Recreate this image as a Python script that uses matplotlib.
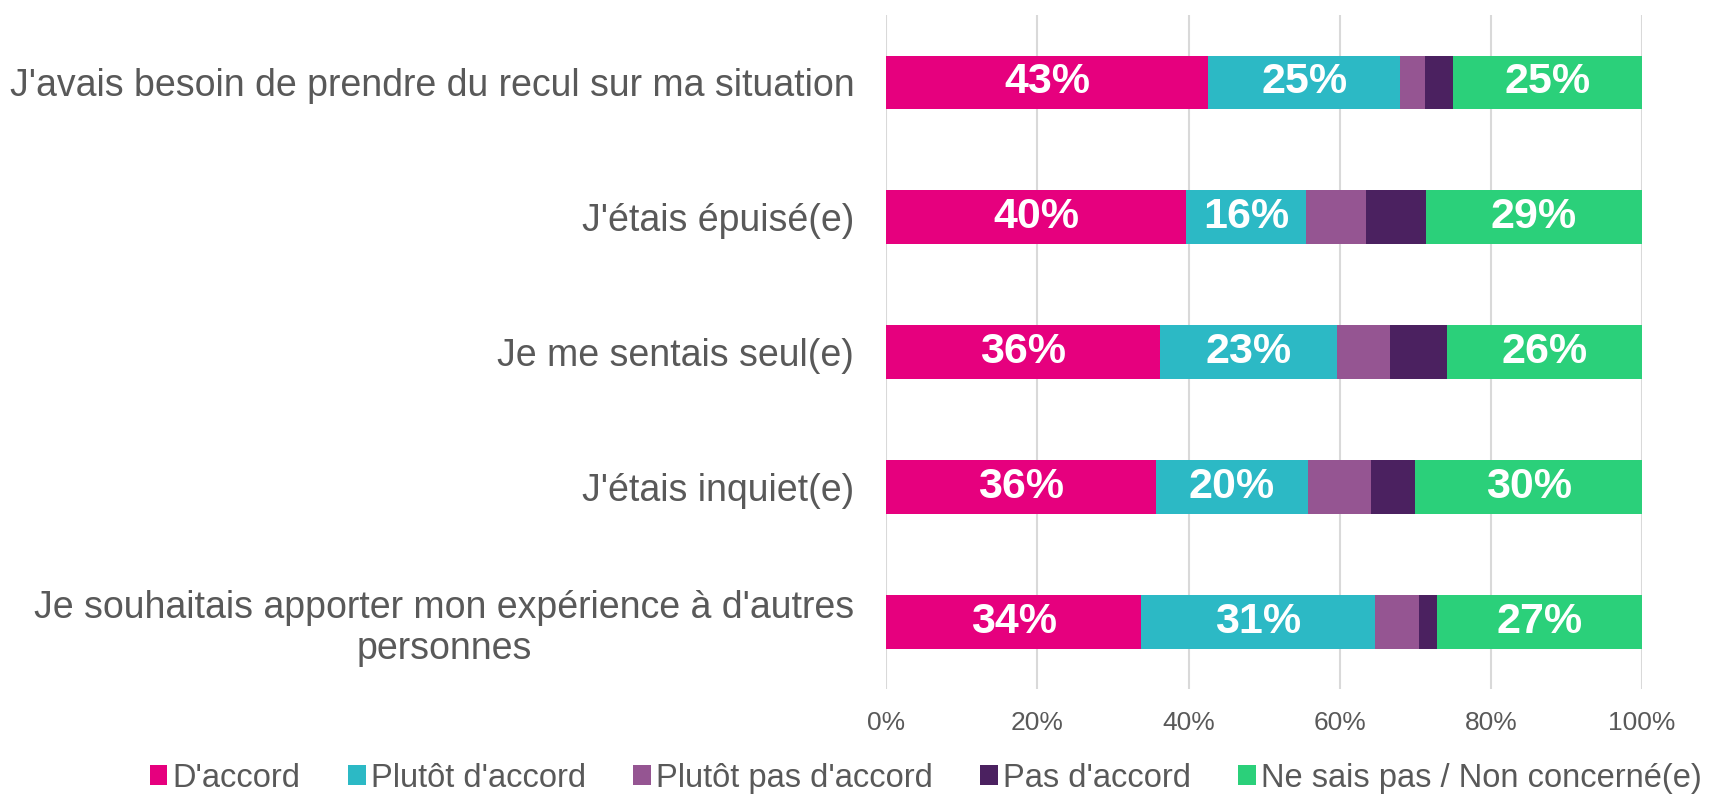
import numpy as np
import matplotlib.pyplot as plt

plt.rcParams['font.family'] = ['Liberation Sans', 'DejaVu Sans']

# Categories (top to bottom)
categories = [
    "J'avais besoin de prendre du recul sur ma situation",
    "J'étais épuisé(e)",
    "Je me sentais seul(e)",
    "J'étais inquiet(e)",
    "Je souhaitais apporter mon expérience à d'autres\npersonnes",
]
series_names = ["D'accord", "Plutôt d'accord", "Plutôt pas d'accord",
                "Pas d'accord", "Ne sais pas / Non concerné(e)"]

# Shares in %
d_accord = [42.6, 39.7, 36.2, 35.7, 33.7]
plutot_d_accord = [25.4, 15.8, 23.4, 20.1, 31.0]
plutot_pas = [3.3, 8.0, 7.1, 8.4, 5.8]
pas_d_accord = [3.7, 7.9, 7.5, 5.8, 2.4]
ne_sais_pas = [25.0, 28.6, 25.8, 30.0, 27.1]

colors = ["#E6007E", "#2CB9C5", "#955592", "#4B2160", "#2BD07A"]
show_label = [True, True, False, False, True]
gray = "#595959"

series = [d_accord, plutot_d_accord, plutot_pas, pas_d_accord, ne_sais_pas]

fig = plt.figure(figsize=(17.11, 7.95), dpi=100)
ax = fig.add_axes([0.518, 0.1333, 0.4417, 0.8477])

y = np.arange(len(categories))
left = np.zeros(len(categories))
for name, vals, col, lab in zip(series_names, series, colors, show_label):
    vals = np.array(vals)
    bars = ax.barh(y, vals, left=left, height=0.4, color=col, label=name,
                   zorder=3)
    if lab:
        ax.bar_label(bars, labels=[f"{v:.0f}%" for v in vals],
                     label_type='center', color='white', fontsize=31,
                     fontweight='bold')
    left += vals

ax.set_xlim(0, 100)
ax.set_ylim(len(categories) - 0.5, -0.5)
ax.set_xticks(np.arange(0, 101, 20))
ax.set_xticklabels([f"{t}%" for t in range(0, 101, 20)])
ax.set_yticks(y)
ax.set_yticklabels(categories, multialignment='center')
ax.tick_params(axis='x', length=0, pad=16, labelsize=19, labelcolor=gray)
ax.tick_params(axis='y', length=0, pad=23, labelsize=27, labelcolor=gray)
ax.grid(axis='x', color='#D9D9D9', linewidth=1.5, zorder=0)
for s in ax.spines.values():
    s.set_visible(False)

fig.legend(loc='center', bbox_to_anchor=(0.541, 0.021), ncol=5,
           frameon=False, fontsize=23.5, labelcolor=gray,
           handlelength=0.55, handleheight=0.55, handletextpad=0.15,
           columnspacing=1.45, borderpad=0.1)

fig.savefig("out.png", dpi=100)
